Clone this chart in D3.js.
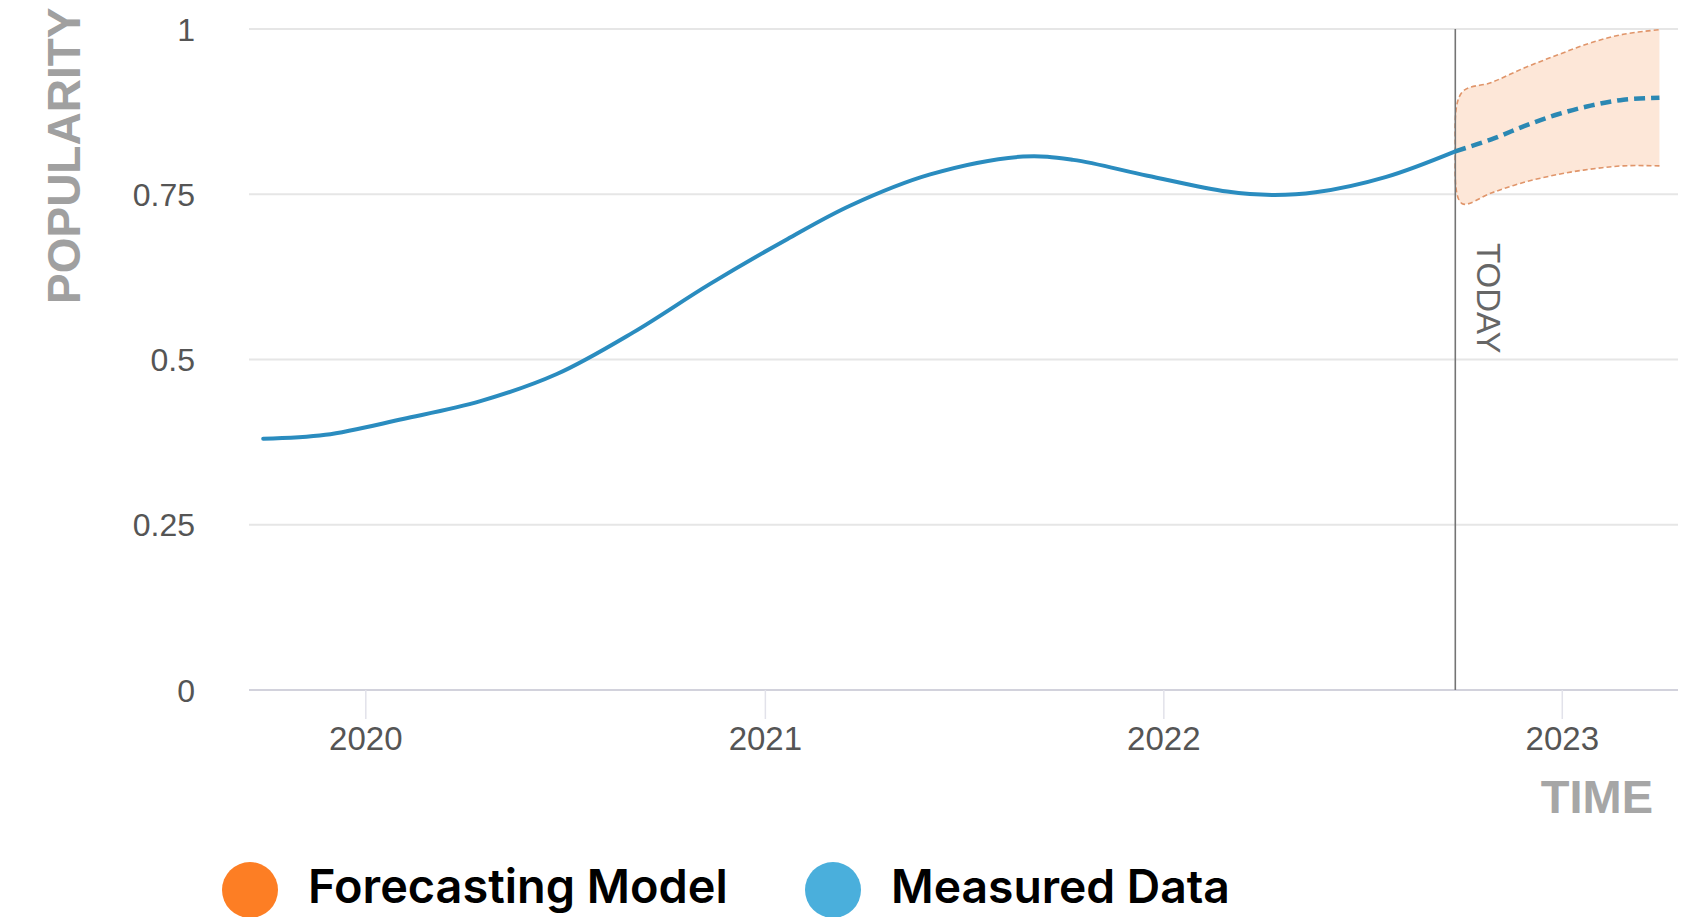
<!DOCTYPE html>
<html>
<head>
<meta charset="utf-8">
<script src="https://cdn.jsdelivr.net/npm/d3@7"></script>
<style>
  html, body { margin: 0; padding: 0; background: #fff; }
  svg { display: block; }
</style>
</head>
<body>
<svg id="chart" width="1689" height="917"></svg>
<script>
// ---- Data ----
const measuredDates = ["2019-09-29","2019-11-25","2020-02-04","2020-04-15","2020-06-24","2020-09-02","2020-11-11","2021-01-21","2021-03-20","2021-06-01","2021-08-25","2021-10-10","2021-12-17","2022-02-28","2022-04-10","2022-05-20","2022-07-23","2022-09-25"];
const measuredValues = [0.380,0.386,0.410,0.437,0.478,0.541,0.614,0.682,0.733,0.780,0.807,0.802,0.778,0.754,0.749,0.753,0.776,0.815];

const forecastDates = ["2022-09-25","2022-10-28","2022-11-27","2022-12-28","2023-01-27","2023-02-26","2023-03-31"];
const forecastValues = [0.815,0.833,0.853,0.871,0.884,0.893,0.896];

const bandDates = ["2022-10-01","2022-10-28","2022-11-27","2022-12-28","2023-01-27","2023-02-26","2023-03-31"];
const bandUpper = [0.904,0.919,0.941,0.961,0.979,0.992,0.999];
const bandLower = [0.736,0.752,0.768,0.780,0.788,0.793,0.793];
const todayDate = "2022-09-25";
const todayEdgeValue = 0.820;

const yTicks = [0, 0.25, 0.5, 0.75, 1];
const yTickLabels = ["0", "0.25", "0.5", "0.75", "1"];
const xTickDates = ["2020-01-01","2021-01-01","2022-01-01","2023-01-01"];
const xTickLabels = ["2020","2021","2022","2023"];
const xDomain = ["2019-09-16","2023-04-17"];

const legendLabels = ["Forecasting Model", "Measured Data"];
const legendColors = ["#fd7e24", "#4aafdc"];
const yTitle = "POPULARITY";
const xTitle = "TIME";
const todayLabel = "TODAY";

// ---- Setup ----
const parse = d3.utcParse("%Y-%m-%d");
const svg = d3.select("#chart");

const x = d3.scaleUtc().domain(xDomain.map(parse)).range([249, 1678]);
const y = d3.scaleLinear().domain([0, 1]).range([690, 29]);

const tickFont = "'Liberation Sans', Arial, sans-serif";

// gridlines
svg.append("g").selectAll("line")
  .data(yTicks.filter(d => d > 0))
  .join("line")
  .attr("x1", 249).attr("x2", 1678)
  .attr("y1", d => y(d)).attr("y2", d => y(d))
  .attr("stroke", "#e6e6e6").attr("stroke-width", 2);

// y tick labels
svg.append("g").selectAll("text")
  .data(yTicks)
  .join("text")
  .attr("x", 195)
  .attr("y", d => y(d))
  .attr("dy", "0.36em")
  .attr("text-anchor", "end")
  .attr("font-family", tickFont)
  .attr("font-size", 32)
  .attr("fill", "#555")
  .text((d, i) => yTickLabels[i]);

// x axis baseline
svg.append("line")
  .attr("x1", 249).attr("x2", 1678)
  .attr("y1", y(0)).attr("y2", y(0))
  .attr("stroke", "#d2d2dc").attr("stroke-width", 2);

// x ticks
const xt = svg.append("g").selectAll("g")
  .data(xTickDates.map(parse))
  .join("g")
  .attr("transform", d => `translate(${x(d)},0)`);
xt.append("line")
  .attr("y1", y(0)).attr("y2", y(0) + 29)
  .attr("stroke", "#e2e2ea").attr("stroke-width", 1.5);
xt.append("text")
  .attr("y", 750)
  .attr("text-anchor", "middle")
  .attr("font-family", tickFont)
  .attr("font-size", 33)
  .attr("fill", "#555")
  .text((d, i) => xTickLabels[i]);

// forecast band
const bandPts = [];
for (let i = bandDates.length - 1; i >= 0; i--) bandPts.push([parse(bandDates[i]), bandLower[i]]);
bandPts.push([parse(todayDate), todayEdgeValue]);
for (let i = 0; i < bandDates.length; i++) bandPts.push([parse(bandDates[i]), bandUpper[i]]);

const bandLine = d3.line()
  .x(d => x(d[0])).y(d => y(d[1]))
  .curve(d3.curveCatmullRom.alpha(0.5));

svg.append("path")
  .attr("d", bandLine(bandPts) + "Z")
  .attr("fill", "#fde7d8")
  .attr("stroke", "none");

svg.append("path")
  .attr("d", bandLine(bandPts))
  .attr("fill", "none")
  .attr("stroke", "#e0956a")
  .attr("stroke-width", 1.6)
  .attr("stroke-dasharray", "5,3");

// today line
const tx = x(parse(todayDate));
svg.append("line")
  .attr("x1", tx).attr("x2", tx)
  .attr("y1", y(1)).attr("y2", y(0))
  .attr("stroke", "#747474").attr("stroke-width", 1.6);

svg.append("text")
  .attr("transform", `translate(${tx + 22},243) rotate(90)`)
  .attr("font-family", tickFont)
  .attr("font-size", 33)
  .attr("fill", "#666")
  .text(todayLabel);

// measured line
const line = d3.line()
  .x(d => x(d[0])).y(d => y(d[1]))
  .curve(d3.curveCatmullRom.alpha(0.5));

svg.append("path")
  .attr("d", line(measuredDates.map((d, i) => [parse(d), measuredValues[i]])))
  .attr("fill", "none")
  .attr("stroke", "#2a8cbf")
  .attr("stroke-width", 4)
  .attr("stroke-linecap", "round");

svg.append("path")
  .attr("d", line(forecastDates.map((d, i) => [parse(d), forecastValues[i]])))
  .attr("fill", "none")
  .attr("stroke", "#2b88b3")
  .attr("stroke-width", 4.5)
  .attr("stroke-dasharray", "11,6");

// axis titles
svg.append("text")
  .attr("transform", "translate(80,304) rotate(-90)")
  .attr("font-family", tickFont)
  .attr("font-weight", "bold")
  .attr("font-size", 46)
  .attr("fill", "#a0a0a0")
  .text(yTitle);

svg.append("text")
  .attr("x", 1653).attr("y", 813)
  .attr("text-anchor", "end")
  .attr("font-family", tickFont)
  .attr("font-weight", "bold")
  .attr("font-size", 47)
  .attr("fill", "#a6a6a6")
  .text(xTitle);

// legend
const legendX = [250, 833];
const legendTextW = [420, 339];
const lg = svg.append("g").selectAll("g")
  .data(legendLabels)
  .join("g");
lg.append("circle")
  .attr("cx", (d, i) => legendX[i])
  .attr("cy", 890)
  .attr("r", 28)
  .attr("fill", (d, i) => legendColors[i]);
lg.append("text")
  .attr("x", (d, i) => legendX[i] + 58)
  .attr("y", 903)
  .attr("font-family", "Inter, 'Noto Sans', sans-serif")
  .attr("font-weight", 600)
  .attr("font-size", 46)
  .attr("fill", "#000")
  .text(d => d)
  .each(function(d, i) {
    const w = this.getComputedTextLength();
    if (w > 0) d3.select(this).attr("font-size", 46 * legendTextW[i] / w);
  });
</script>
</body>
</html>
